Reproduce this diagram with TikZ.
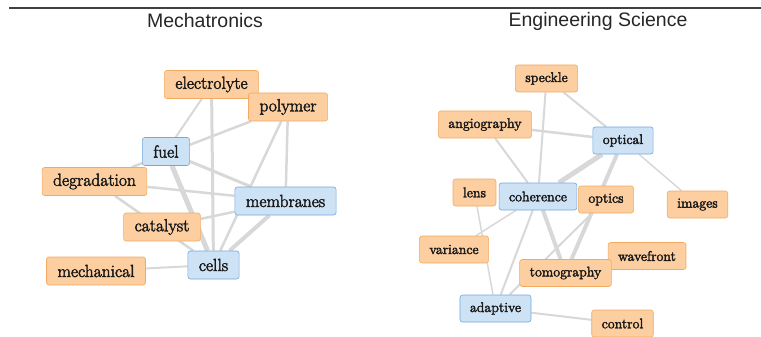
\documentclass[tikz,border=0pt]{standalone}
\usepackage{fontspec}
\newfontfamily\titlefont{Liberation Sans}
\newfontfamily\wordfont{Latin Modern Roman}[FakeBold=2.5]
\usepackage{tikz}
\usetikzlibrary{backgrounds}
\definecolor{hotFill}{RGB}{252, 206, 160}
\definecolor{hotLine}{RGB}{242, 170, 98}
\definecolor{coldFill}{RGB}{206, 226, 245}
\definecolor{coldLine}{RGB}{112, 170, 220}
\definecolor{edgeGray}{RGB}{216, 216, 216}

\begin{document}
\begin{tikzpicture}[
    x = 1pt, y = -1pt,
    word/.style = {draw, semithick, rounded corners=2.5pt, text=black!90},
    big/.style = {minimum height=28pt, inner xsep=11pt,
        font=\wordfont\fontsize{17.5}{20}\selectfont},
    small/.style = {minimum height=27pt, inner xsep=10pt,
        font=\wordfont\fontsize{14}{17}\selectfont},
    hot/.style = {word, fill=hotFill, draw=hotLine},
    cold/.style = {word, fill=coldFill, draw=coldLine},
    title/.style = {font=\titlefont\fontsize{19.5}{22}\selectfont, text=black!85}
  ]
  \useasboundingbox (0,0) rectangle (761,337);
  \draw [line width=1.2pt, black!75] (9,8) -- (761,8);

  \node[title] (mecha) at (205,21) {Mechatronics};
  \node[title] (engsci) at (598,21) {Engineering Science};

  \foreach \name/\x/\y/\s in {electrolyte/211.5/84.5/hot, polymer/288/107/hot,
      fuel/166/151.5/cold, degradation/94.5/181.5/hot, membranes/285.5/201/cold,
      catalyst/162/227/hot, cells/213.5/265/cold, mechanical/96/271/hot}
  \node[\s, big] (\name) at (\x,\y) {\name};

  \foreach \name/\x/\y/\s in {speckle/546.5/78.5/hot, angiography/485/124.5/hot,
      optical/623/140.5/cold, lens/474.5/192.5/hot, coherence/538/196.5/cold,
      optics/606/199.5/hot, images/697.5/204.5/hot, variance/454/249.5/hot,
      wavefront/647/256/hot, tomography/565.5/273/hot, adaptive/495.5/308.5/cold,
      control/622.5/323.5/hot}
  \node[\s, small] (\name) at (\x,\y) {\name};

  \begin{scope}[on background layer]
    \foreach \a/\b/\w in {electrolyte/fuel/2, electrolyte/cells/3,
        degradation/polymer/2.5, polymer/cells/2.5, polymer/membranes/2.5,
        fuel/cells/5, fuel/membranes/3, degradation/membranes/2.5,
        degradation/cells/2.5, catalyst/membranes/2.5, membranes/cells/4,
        mechanical/cells/2,
        speckle/coherence/2, speckle/optical/2, angiography/optical/2.5,
        angiography/coherence/2, optical/coherence/5, optical/tomography/4,
        optical/images/1.5, coherence/tomography/4, coherence/adaptive/2,
        coherence/variance/1.5, lens/adaptive/1.5, optics/adaptive/2,
        adaptive/control/2}
    \draw [edgeGray, line width=\w pt] (\a) -- (\b);
  \end{scope}
\end{tikzpicture}
\end{document}
